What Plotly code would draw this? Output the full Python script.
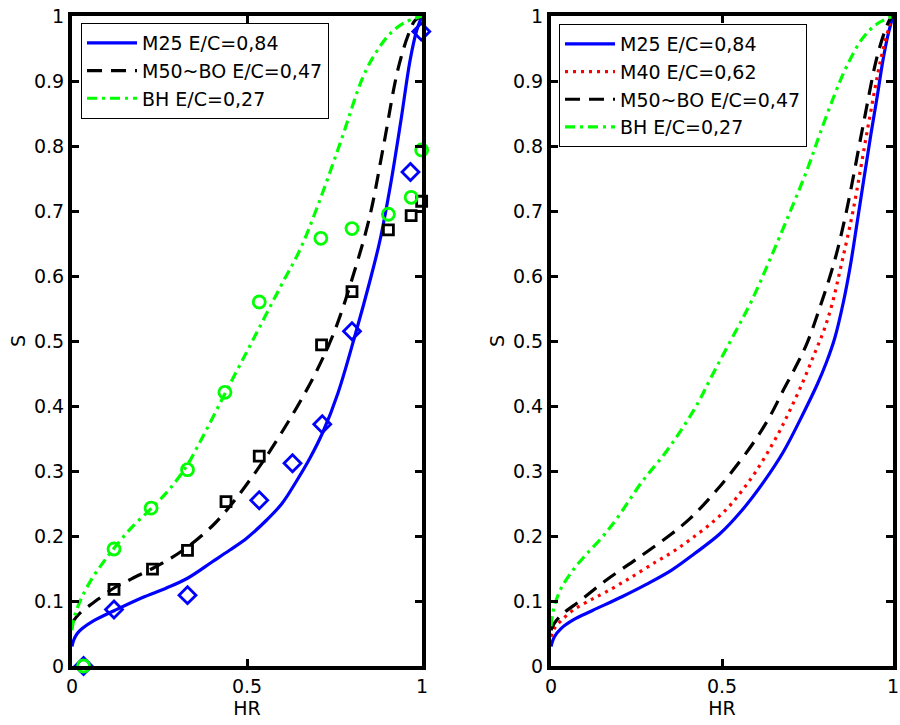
import plotly.graph_objects as go

# ---------------- Left panel: curves ----------------
hr_m25_L = [0.0, 0.005, 0.015, 0.03, 0.06, 0.12, 0.2, 0.27, 0.33, 0.4, 0.45, 0.5, 0.557, 0.6, 0.642,
            0.68, 0.717, 0.76, 0.813, 0.85, 0.88, 0.91, 0.94, 0.966, 0.985, 1.0]
s_m25_L  = [0.03, 0.04, 0.05, 0.058, 0.069, 0.085, 0.105, 0.12, 0.135, 0.16, 0.178, 0.197, 0.225, 0.25, 0.285,
            0.32, 0.36, 0.42, 0.517, 0.59, 0.655, 0.74, 0.84, 0.932, 0.978, 1.0]

hr_m50_L = [0.0, 0.005, 0.015, 0.03, 0.06, 0.12, 0.17, 0.23, 0.28, 0.33, 0.4, 0.45, 0.5, 0.55, 0.6,
            0.65, 0.7, 0.75, 0.8, 0.85, 0.89, 0.93, 0.96, 0.98, 1.0]
s_m50_L  = [0.065, 0.07, 0.077, 0.085, 0.097, 0.12, 0.134, 0.15, 0.165, 0.183, 0.215, 0.245, 0.28, 0.318, 0.36,
            0.405, 0.455, 0.515, 0.595, 0.69, 0.80, 0.915, 0.97, 0.993, 1.0]

hr_bh_L = [0.0, 0.005, 0.013, 0.03, 0.06, 0.09, 0.12, 0.17, 0.228, 0.28, 0.328, 0.366, 0.4, 0.439, 0.5,
           0.55, 0.6, 0.651, 0.7, 0.766, 0.832, 0.87, 0.909, 0.95, 1.0]
s_bh_L  = [0.055, 0.072, 0.086, 0.108, 0.137, 0.16, 0.181, 0.213, 0.243, 0.273, 0.308, 0.345, 0.38, 0.421, 0.484,
           0.536, 0.588, 0.64, 0.705, 0.804, 0.907, 0.945, 0.973, 0.99, 1.0]

# ---------------- Left panel: measured points ----------------
hr_m25_pts = [0.033, 0.12, 0.33, 0.535, 0.63, 0.715, 0.80, 0.967, 0.998]
s_m25_pts  = [0.0, 0.087, 0.109, 0.255, 0.312, 0.372, 0.515, 0.76, 0.976]

hr_m50_pts = [0.12, 0.23, 0.33, 0.44, 0.535, 0.713, 0.80, 0.904, 0.969, 0.999]
s_m50_pts  = [0.118, 0.149, 0.178, 0.253, 0.323, 0.494, 0.576, 0.671, 0.693, 0.715]

hr_bh_pts = [0.033, 0.12, 0.226, 0.33, 0.437, 0.535, 0.711, 0.80, 0.904, 0.969, 0.999]
s_bh_pts  = [0.0, 0.18, 0.243, 0.302, 0.421, 0.56, 0.658, 0.673, 0.695, 0.721, 0.794]

# ---------------- Right panel: curves ----------------
hr_m25_R = [0.0, 0.01, 0.03, 0.065, 0.12, 0.209, 0.28, 0.354, 0.42, 0.493, 0.556, 0.623, 0.68, 0.739,
            0.78, 0.806, 0.83, 0.855, 0.875, 0.893, 0.915, 0.936, 0.955, 0.97, 0.985, 1.0]
s_m25_R  = [0.03, 0.045, 0.058, 0.071, 0.085, 0.107, 0.126, 0.148, 0.173, 0.203, 0.238, 0.284, 0.33, 0.39,
            0.435, 0.468, 0.505, 0.56, 0.615, 0.675, 0.75, 0.82, 0.88, 0.93, 0.97, 1.0]

hr_m40_R = [0.0, 0.01, 0.03, 0.065, 0.11, 0.161, 0.23, 0.306, 0.36, 0.411, 0.474, 0.52, 0.556, 0.6,
            0.662, 0.7, 0.739, 0.77, 0.797, 0.821, 0.85, 0.883, 0.927, 0.965, 0.99, 1.0]
s_m40_R  = [0.045, 0.058, 0.07, 0.086, 0.1, 0.114, 0.135, 0.16, 0.177, 0.196, 0.222, 0.245, 0.268, 0.30,
            0.355, 0.395, 0.44, 0.48, 0.515, 0.555, 0.62, 0.70, 0.83, 0.935, 0.985, 1.0]

hr_m50_R = [0.0, 0.01, 0.036, 0.084, 0.161, 0.257, 0.352, 0.407, 0.46, 0.52, 0.594, 0.64, 0.681, 0.72,
            0.749, 0.787, 0.83, 0.864, 0.912, 0.951, 0.975, 0.99, 1.0]
s_m50_R  = [0.055, 0.066, 0.081, 0.10, 0.132, 0.167, 0.203, 0.227, 0.256, 0.293, 0.345, 0.384, 0.426, 0.465,
            0.497, 0.553, 0.625, 0.70, 0.83, 0.932, 0.975, 0.994, 1.0]

hr_bh_R = [0.0, 0.004, 0.012, 0.03, 0.065, 0.1, 0.146, 0.19, 0.267, 0.33, 0.382, 0.43, 0.469, 0.537,
           0.585, 0.64, 0.70, 0.75, 0.787, 0.83, 0.864, 0.91, 0.951, 1.0]
s_bh_R  = [0.061, 0.078, 0.096, 0.12, 0.148, 0.17, 0.196, 0.225, 0.284, 0.325, 0.364, 0.405, 0.445, 0.512,
           0.56, 0.625, 0.70, 0.765, 0.82, 0.88, 0.922, 0.965, 0.987, 1.0]

# ---------------- Labels / ticks ----------------
label_m25 = "M25 E/C=0,84"
label_m40 = "M40 E/C=0,62"
label_m50 = "M50~BO E/C=0,47"
label_bh = "BH E/C=0,27"
x_ticks = [0, 0.5, 1]
x_ticktext = ["0", "0.5", "1"]
y_ticks = [0, 0.1, 0.2, 0.3, 0.4, 0.5, 0.6, 0.7, 0.8, 0.9, 1.0]
y_ticktext = ["0", "0.1", "0.2", "0.3", "0.4", "0.5", "0.6", "0.7", "0.8", "0.9", "1"]

BLUE = "#0000ff"
BLACK = "#000000"
GREEN = "#00ff00"
RED = "#ff0000"
LW = 3.2
DASH_BLACK = "15px,9px"
DASH_GREEN = "10px,5px,3px,5px"
DASH_RED = "3px,5px"

fig = go.Figure()

def line(x, y, name, color, dash, xa, ya, legend):
    fig.add_trace(go.Scatter(x=x, y=y, mode="lines", name=name,
                             line=dict(color=color, width=LW, dash=dash, shape="spline", smoothing=1.0),
                             xaxis=xa, yaxis=ya, legend=legend))

def pts(x, y, color, symbol, size, xa, ya):
    fig.add_trace(go.Scatter(x=x, y=y, mode="markers", showlegend=False,
                             marker=dict(symbol=symbol, size=size, color=color,
                                         line=dict(color=color, width=2.8)),
                             cliponaxis=False, xaxis=xa, yaxis=ya))

# left
line(hr_m25_L, s_m25_L, label_m25, BLUE, "solid", "x", "y", "legend")
line(hr_m50_L, s_m50_L, label_m50, BLACK, DASH_BLACK, "x", "y", "legend")
line(hr_bh_L, s_bh_L, label_bh, GREEN, DASH_GREEN, "x", "y", "legend")
pts(hr_m25_pts, s_m25_pts, BLUE, "diamond-open", 13, "x", "y")
pts(hr_m50_pts, s_m50_pts, BLACK, "square-open", 10, "x", "y")
pts(hr_bh_pts, s_bh_pts, GREEN, "circle-open", 12, "x", "y")

# right
line(hr_m25_R, s_m25_R, label_m25, BLUE, "solid", "x2", "y2", "legend2")
line(hr_m40_R, s_m40_R, label_m40, RED, DASH_RED, "x2", "y2", "legend2")
line(hr_m50_R, s_m50_R, label_m50, BLACK, DASH_BLACK, "x2", "y2", "legend2")
line(hr_bh_R, s_bh_R, label_bh, GREEN, DASH_GREEN, "x2", "y2", "legend2")

FONT = dict(family="DejaVu Sans, Liberation Sans, Arial, sans-serif", size=19, color="black")
LFONT = dict(family="DejaVu Sans, Liberation Sans, Arial, sans-serif", size=19, color="black")

ax_common = dict(range=[0, 1], showgrid=False, zeroline=False, showline=True, automargin=False,
                 linecolor="black", linewidth=4, mirror="ticks", ticks="inside",
                 ticklen=7, tickwidth=2.5, tickcolor="black", tickfont=FONT,
                 ticklabeloverflow="allow")

y_dom = [1 - 666 / 725, 1 - 16 / 725]
fig.update_layout(
    width=900, height=725, margin=dict(l=0, r=0, t=0, b=0, autoexpand=False),
    paper_bgcolor="white", plot_bgcolor="white", font=FONT,
    xaxis=dict(domain=[72 / 900, 422 / 900], anchor="y", tickvals=x_ticks, ticktext=x_ticktext,
               title=dict(text="HR", font=FONT, standoff=0), **ax_common),
    yaxis=dict(domain=y_dom, anchor="x", tickvals=y_ticks, ticktext=y_ticktext,
               title=dict(text="S", font=FONT, standoff=4), **ax_common),
    xaxis2=dict(domain=[551 / 900, 893 / 900], anchor="y2", tickvals=x_ticks, ticktext=x_ticktext,
                title=dict(text="HR", font=FONT, standoff=0), **ax_common),
    yaxis2=dict(domain=y_dom, anchor="x2", tickvals=y_ticks, ticktext=y_ticktext,
                title=dict(text="S", font=FONT, standoff=4), **ax_common),
    legend=dict(x=81 / 900, y=1 - 23 / 725, xanchor="left", yanchor="top",
                bgcolor="white", bordercolor="black", borderwidth=1, font=LFONT,
                tracegroupgap=0, itemwidth=50),
    legend2=dict(x=559 / 900, y=1 - 24 / 725, xanchor="left", yanchor="top",
                 bgcolor="white", bordercolor="black", borderwidth=1, font=LFONT,
                 tracegroupgap=0, itemwidth=50),
    showlegend=True,
)

fig.write_html("out.html")
